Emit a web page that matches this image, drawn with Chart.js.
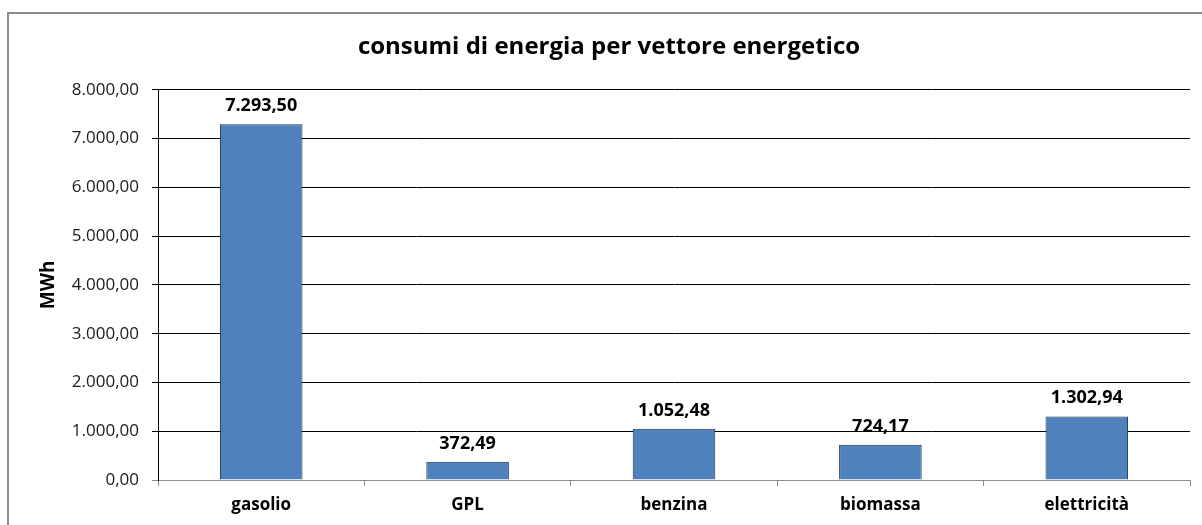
<!DOCTYPE html>
<html lang="it">
<head>
    <meta charset="UTF-8">
    <title>consumi di energia per vettore energetico</title>
    <style>
        html, body {
            margin: 0;
            padding: 0;
            background: #ffffff;
        }
        .chart-box {
            position: relative;
            width: 1202px;
            height: 525px;
        }
    </style>
</head>
<body>
    <div class="chart-box">
        <canvas id="energyChart" width="1202" height="525"></canvas>
    </div>

    <script src="https://cdn.jsdelivr.net/npm/chart.js"></script>
    <script>
        // data
        const categories = ['gasolio', 'GPL', 'benzina', 'biomassa', 'elettricità'];
        const consumi = [7293.50, 372.49, 1052.48, 724.17, 1302.94];
        const yTicks = [0, 1000, 2000, 3000, 4000, 5000, 6000, 7000, 8000];

        const FONT = "'Open Sans', 'DejaVu Sans', sans-serif";

        // italian number format: 1.234,56
        function fmt(v) {
            const parts = v.toFixed(2).split('.');
            const intPart = parts[0].replace(/\B(?=(\d{3})+(?!\d))/g, '.');
            return intPart + ',' + parts[1];
        }

        // grey frame (top and left only are visible in the picture)
        const framePlugin = {
            id: 'frame',
            beforeDraw(chart) {
                const c = chart.ctx;
                c.save();
                c.strokeStyle = '#8c8c8c';
                c.lineWidth = 2;
                c.beginPath();
                c.moveTo(8, chart.height + 2);
                c.lineTo(8, 13);
                c.lineTo(chart.width + 2, 13);
                c.stroke();
                c.restore();
            }
        };

        // value labels above bars
        const valueLabels = {
            id: 'valueLabels',
            afterDatasetsDraw(chart) {
                const c = chart.ctx;
                const meta = chart.getDatasetMeta(0);
                c.save();
                c.font = 'bold 18px ' + FONT;
                c.fillStyle = '#000';
                c.textAlign = 'center';
                c.textBaseline = 'alphabetic';
                meta.data.forEach((bar, i) => {
                    c.fillText(fmt(consumi[i]), bar.x, bar.y - 13);
                });
                c.restore();
            }
        };

        new Chart(document.getElementById('energyChart'), {
            type: 'bar',
            data: {
                labels: categories,
                datasets: [{
                    label: 'MWh',
                    data: consumi,
                    backgroundColor: '#4f81bd',
                    borderColor: '#1c2f47',
                    borderWidth: 1,
                    barPercentage: 0.4,
                    categoryPercentage: 1.0
                }]
            },
            options: {
                responsive: false,
                animation: false,
                layout: {
                    padding: { left: 28, right: 12, top: 0, bottom: 0 }
                },
                plugins: {
                    legend: { display: false },
                    tooltip: { enabled: false },
                    title: {
                        display: true,
                        text: 'consumi di energia per vettore energetico',
                        color: '#000',
                        font: { family: FONT, size: 24, weight: 'bold' },
                        padding: { top: 33, bottom: 28 }
                    }
                },
                scales: {
                    x: {
                        grid: {
                            offset: true,
                            drawOnChartArea: false,
                            drawTicks: true,
                            tickLength: 6,
                            color: '#8c8c8c'
                        },
                        border: { display: true, color: '#8c8c8c', width: 1 },
                        ticks: {
                            color: '#000',
                            padding: 9,
                            font: { family: FONT, size: 17, weight: 'bold' }
                        },
                        afterFit(scale) {
                            scale.height = 45;
                        }
                    },
                    y: {
                        min: 0,
                        max: 8000,
                        afterBuildTicks(scale) {
                            scale.ticks = yTicks.map(v => ({ value: v }));
                        },
                        grid: {
                            color: ctx => (ctx.tick && ctx.tick.value === 0) ? '#8c8c8c' : '#000',
                            lineWidth: 1,
                            tickLength: 6
                        },
                        border: { display: true, color: '#000', width: 1 },
                        ticks: {
                            color: '#1a1a1a',
                            padding: 13,
                            font: { family: FONT, size: 17 },
                            callback: v => fmt(v)
                        },
                        title: {
                            display: true,
                            text: 'MWh',
                            color: '#000',
                            font: { family: FONT, size: 19, weight: 'bold' },
                            padding: { top: 9, bottom: 0 }
                        },
                        afterFit(scale) {
                            scale.width = 130;
                        }
                    }
                }
            },
            plugins: [framePlugin, valueLabels]
        });
    </script>
</body>
</html>
